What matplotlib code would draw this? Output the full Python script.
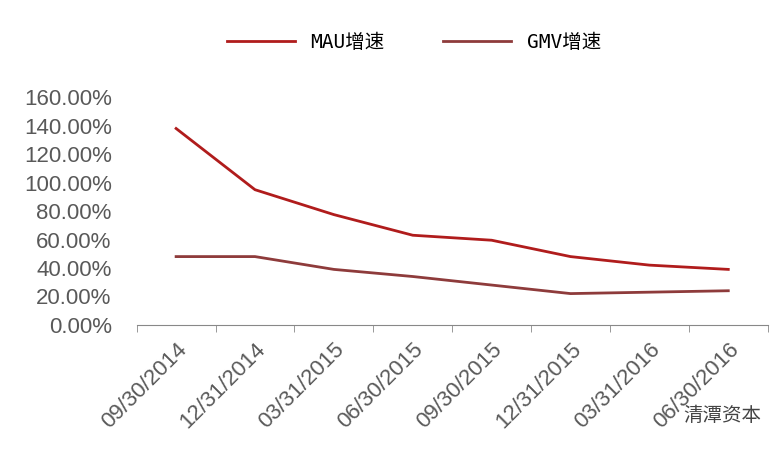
import matplotlib
matplotlib.use("Agg")
import matplotlib.pyplot as plt
from matplotlib.ticker import FuncFormatter, FixedLocator

plt.rcParams['font.family'] = ['Liberation Sans', 'Noto Sans CJK SC', 'DejaVu Sans']

dates = ["09/30/2014", "12/31/2014", "03/31/2015", "06/30/2015",
         "09/30/2015", "12/31/2015", "03/31/2016", "06/30/2016"]
mau = [1.38, 0.95, 0.775, 0.63, 0.595, 0.48, 0.42, 0.39]
gmv = [0.48, 0.48, 0.39, 0.34, 0.28, 0.22, 0.23, 0.24]

fig = plt.figure(figsize=(7.81, 4.5), dpi=100)
ax = fig.add_axes([0.175, 0.278, 0.808, 0.506])
x = list(range(len(dates)))
ax.plot(x, mau, color="#B01C1C", lw=2, label="MAU增速")
ax.plot(x, gmv, color="#8E3B3B", lw=2, label="GMV增速")
ax.set_xlim(-0.5, 7.5)
ax.set_ylim(0, 1.6)
ax.set_yticks([i * 0.2 for i in range(9)])
ax.yaxis.set_major_formatter(FuncFormatter(lambda v, p: f"{v*100:.2f}%"))
ax.set_xticks(x)
ax.set_xticklabels(dates, rotation=45, ha="right", rotation_mode="anchor")
ax.xaxis.set_minor_locator(FixedLocator([i + 0.5 for i in range(-1, 8)]))
ax.tick_params(axis="x", which="major", length=0, labelsize=16, colors="#595959", pad=10)
ax.tick_params(axis="x", which="minor", length=5, color="#888888")
ax.tick_params(axis="y", length=0, labelsize=16, colors="#595959", pad=18)
for s in ["top", "right", "left"]:
    ax.spines[s].set_visible(False)
ax.spines["bottom"].set_color("#888888")
fig.legend(loc="upper center", bbox_to_anchor=(0.53, 0.965), ncol=2, frameon=False,
           handlelength=3.5, columnspacing=3,
           prop={'family': ['DejaVu Sans Mono', 'Noto Sans CJK SC'], 'size': 14})
fig.text(0.925, 0.065, "清潭资本", family=['Noto Sans CJK SC'], fontsize=14, color="#444444",
         ha="center")
fig.savefig("out.png", dpi=100, facecolor="white")
